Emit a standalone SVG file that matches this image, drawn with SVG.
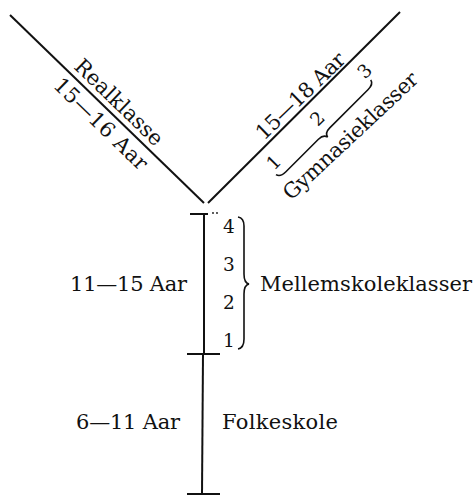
<svg xmlns="http://www.w3.org/2000/svg" width="474" height="500" viewBox="0 0 474 500">
<style>
text{font-family:"DejaVu Serif","Liberation Serif",serif;font-size:21px;fill:#111}
.n{font-size:18.5px}
.ln{stroke:#111;stroke-width:2;fill:none}
.br{stroke:#111;stroke-width:1.6;fill:none}
</style>
<rect width="474" height="500" fill="#fff"/>
<g id="connectors">
<line class="ln" x1="10" y1="15" x2="204" y2="203"/>
<line class="ln" x1="208" y1="203" x2="400" y2="12"/>
<line class="ln" x1="190" y1="214" x2="208" y2="214"/>
<circle cx="213" cy="213" r="0.9" fill="#111"/>
<circle cx="217" cy="213" r="0.9" fill="#111"/>
<line class="ln" x1="204" y1="214" x2="204" y2="354"/>
<line class="ln" x1="187" y1="354" x2="220" y2="354" stroke-width="2.5"/>
<line class="ln" x1="203" y1="354" x2="202" y2="494"/>
<line class="ln" x1="187" y1="494" x2="220" y2="494" stroke-width="2.5"/>
</g>
<g id="realklasse" transform="translate(10,15) rotate(44.1)">
<text x="82" y="-6" textLength="114">Realklasse</text>
<text x="80" y="22" textLength="122">15—16 Aar</text>
</g>
<g id="gymnasieklasser">
<text transform="translate(264,141) rotate(-44)" textLength="115">15—18 Aar</text>
<g transform="translate(206,205) rotate(-45)">
<text class="n" x="72" y="24">1</text>
<text class="n" x="134" y="24">2</text>
<text class="n" x="201" y="24">3</text>
<path class="br" d="M71,28 Q72,33 80,33 L126,33 Q133,33 134,38 Q135,33 142,33 L196,33 Q204,33 205,28"/>
</g>
<text transform="translate(291,201) rotate(-43)" textLength="176">Gymnasieklasser</text>
</g>
<g id="mellemskole">
<text x="70" y="291" textLength="117">11—15 Aar</text>
<text class="n" x="223" y="233">4</text>
<text class="n" x="223" y="271">3</text>
<text class="n" x="223" y="309">2</text>
<text class="n" x="223" y="347">1</text>
<path class="br" d="M238,217 Q244,218 244,226 L244,274 Q244,283 249,284 Q244,285 244,294 L244,339 Q244,348 238,349"/>
<text x="260" y="291" textLength="212">Mellemskoleklasser</text>
</g>
<g id="folkeskole">
<text x="76" y="429" textLength="104">6—11 Aar</text>
<text x="222" y="429" textLength="116">Folkeskole</text>
</g>
</svg>
